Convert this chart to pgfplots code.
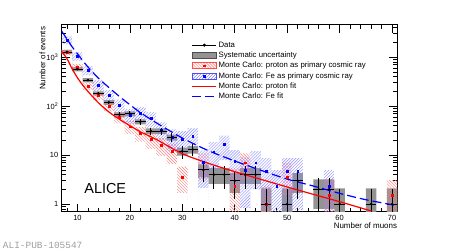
\documentclass[border=0pt]{standalone}
\usepackage{pgfplots}
\pgfplotsset{compat=1.18}
\usepackage{pgfplotstable}
\usepgfplotslibrary{fillbetween}
\usetikzlibrary{patterns}
\usepackage{fontspec}
\setmainfont{Liberation Sans}
\setmonofont{Liberation Mono}

% data: muon number, events, x half width, stat errors
\pgfplotstableread{
m n ex ep em
8 1280 1 35.8 35.8
10 570 1 23.9 23.9
12 340 1 18.4 18.4
14 182 1 13.5 13.5
16 119 1 10.9 10.9
18 67 1 8.2 8.2
20 70 1 8.4 8.4
22 48 1 6.9 6.9
24 31 1 5.6 5.6
26 31 1 5.6 5.6
28 23 1 4.8 4.8
30 12 1 3.5 3.5
32 13 1 3.6 3.6
34 5 1 2.2 2.2
36 4 1 2.0 2.0
38 4 1 2.0 2.0
40 3 1 1.7 1.7
42 4 1 2.0 2.0
44 4 1 2.0 2.0
46 1 1 1.0 0.999
50 1 1 1.0 0.999
52 3 1 1.7 1.7
56 2 1 1.41 1.41
58 2 1 1.41 1.41
60 1 1 1.0 0.999
66 1 1 1.0 0.999
70 1 1 1.0 0.999
}\datatab

% systematic boxes (left bin edge, low, high)
\pgfplotstableread{
x lo hi
7 1151 1409
9 512 628
11 305 375
13 163 201
15 106 132
17 59.3 74.7
19 62 78
21 42.2 53.8
23 26.9 35.1
25 26.9 35.1
27 19.7 26.3
29 9.8 14.2
31 10.7 15.3
33 3.5 6.5
35 2.6 5.4
37 2.6 5.4
39 1.7 4.3
41 2.6 5.4
43 2.6 5.4
45 0.01 2.1
47 0.5 0.5
49 0.01 2.1
51 1.7 4.3
53 0.5 0.5
55 0.8 3.2
57 0.8 3.2
59 0.01 2.1
61 0.5 0.5
63 0.5 0.5
65 0.01 2.1
67 0.5 0.5
69 0.01 2.1
71 0.01 2.1
}\systab

% MC Fe boxes
\pgfplotstableread{
x lo hi
7 1841 2659
9 844 1256
11 424 656
13 205 335
15 122.6 211.4
17 73.9 136.1
19 43.9 88.1
21 47.7 94.3
23 36.4 75.6
25 19.4 46.6
27 12.4 33.6
29 11 31
31 13 35
33 2.15 12.45
35 4.8 18.6
37 7.9 25.1
39 2.3 12.7
41 0.84 8.96
43 2 12
45 0.75 8.65
47 0.01 4.92
49 0.75 8.65
51 0.75 8.65
53 0.5 0.5
55 0.5 0.5
57 0.01 4.92
59 0.01 4.92
}\febox

% MC proton boxes
\pgfplotstableread{
x lo hi
7 1083 1417
9 537 723
11 212 302
13 135 199
15 78 122
17 44.7 75.3
19 26.8 49.2
21 18.85 37.15
23 13.4 28.6
25 9.6 22.4
27 6.64 17.36
29 1.7 5.8
31 0.5 0.5
33 3.13 10.87
35 0.5 0.5
37 0.5 0.5
39 0.25 5.5
41 3.13 10.87
43 0.5 0.5
45 0.01 2.3
47 0.5 0.5
49 1.5 7
51 0.5 0.5
53 0.5 0.5
55 0.5 0.5
57 0.01 3.1
59 0.5 0.5
61 0.5 0.5
63 0.5 0.5
65 0.5 0.5
67 0.5 0.5
69 0.01 3.1
71 0.01 3.1
}\prbox

\pgfplotstableread{
m n
8 2250
10 1050
12 540
14 270
16 167
18 105
20 66
22 71
24 56
26 33
28 23
30 21
32 24
34 7.3
36 11.7
38 16.5
40 7.5
42 4.9
44 7
46 4.7
48 2.3
50 4.7
52 4.7
58 2.3
}\fepts

\pgfplotstableread{
m n
8 1250
10 630
12 257
14 167
16 100
18 60
20 38
22 28
24 21
26 16
28 12
30 3.6
34 7
40 2.3
42 7
46 1
50 3.5
58 1.5
70 1.5
}\prpts

\begin{document}
\begin{tikzpicture}
\path (0,0) rectangle (449bp,251bp);
\begin{axis}[
  at={(61.7bp,39.3bp)}, anchor=south west,
  width=335.6bp, height=187bp, scale only axis,
  xmin=7, xmax=71, ymode=log, ymin=0.7, ymax=4600,
  axis line style={line width=0.9bp},
  tick align=inside, tick pos=both,
  xtick={10,20,...,70}, minor xtick={8,10,...,70},
  ytick={1,10,100,1000},
  yticklabels={1,10,10\textsuperscript{2},10\textsuperscript{3}},
  minor ytick={0.8,0.9,2,3,4,5,6,7,8,9,20,30,40,50,60,70,80,90,200,300,400,500,600,700,800,900,2000,3000,4000},
  major tick length=8bp, minor tick length=4bp,
  every tick/.style={line width=0.7bp, black},
  /pgf/number format/assume math mode=true,
  tick label style={font=\fontsize{7.5}{8}\selectfont},
  xlabel={Number of muons},
  xlabel style={at={(axis description cs:1,0)}, anchor=north east, yshift=-11bp, inner sep=0pt, font=\fontsize{8}{9}\selectfont},
  ylabel={Number of events},
  ylabel style={at={(axis description cs:-0.0667,0.989)}, anchor=north east, inner sep=0pt, font=\fontsize{8}{9}\selectfont},
  legend style={at={(axis description cs:0.387,0.919)}, anchor=north west, draw=none, fill=none,
    font=\fontsize{7.8}{8}\selectfont, inner sep=0pt, row sep=0pt,
    nodes={inner sep=1.65bp, text height=5.5bp, text depth=1.5bp, anchor=west}},
  legend cell align=left,
]
% systematic boxes
\addplot[name path=syshi, draw=none, const plot mark left, forget plot] table[x=x, y=hi]{\systab};
\addplot[name path=syslo, draw=none, const plot mark left, forget plot] table[x=x, y=lo]{\systab};
\addplot[fill=gray!85, draw=none, forget plot] fill between[of=syshi and syslo];
% MC proton boxes
\addplot[name path=prhi, draw=none, const plot mark left, forget plot] table[x=x, y=hi]{\prbox};
\addplot[name path=prlo, draw=none, const plot mark left, forget plot] table[x=x, y=lo]{\prbox};
\addplot[pattern=north west lines, pattern color=red!50, draw=none, forget plot] fill between[of=prhi and prlo];
% MC Fe boxes
\addplot[name path=fehi, draw=none, const plot mark left, forget plot] table[x=x, y=hi]{\febox};
\addplot[name path=felo, draw=none, const plot mark left, forget plot] table[x=x, y=lo]{\febox};
\addplot[pattern=north east lines, pattern color=blue!45, draw=none, forget plot] fill between[of=fehi and felo];
% MC points
\addplot[only marks, mark=square*, mark size=0.9bp, red, forget plot] table[x=m, y=n]{\prpts};
\addplot[only marks, mark=square*, mark size=0.9bp, blue, forget plot] table[x=m, y=n]{\fepts};
% data
\addplot[black, only marks, mark=*, mark size=1.1bp, forget plot,
  error bars/.cd, x dir=both, x explicit, y dir=both, y explicit, error mark=none,
  error bar style={line width=0.8bp, black}]
  table[x=m, y=n, x error=ex, y error plus=ep, y error minus=em]{\datatab};
% fits
\addplot[red, line width=1.2bp, smooth, forget plot] coordinates {
(7,1300) (8,933) (9,575) (10,380) (11,269) (12,200) (14,117) (16,76) (18,54) (20,40) (22,30) (25,21) (30,10.7) (35,6.8) (40,4.6) (45,3.2) (50,2.24) (55,1.58) (60,1.12) (66.1,0.72)};
\addplot[blue, line width=1.2bp, dash pattern=on 9bp off 4bp, smooth, forget plot] coordinates {
(7,3390) (8,2340) (9,1620) (10,1175) (11,851) (12,631) (14,372) (16,240) (18,158) (20,107) (22,74) (25,46) (30,22.4) (35,12.3) (40,7.6) (45,4.9) (50,3.24) (55,2.34) (60,1.66) (65,1.23) (71,0.93)};

\addlegendimage{legend image code/.code={
  \draw[black, line width=0.8bp] (0bp,0bp) -- (24bp,0bp);
  \fill[black] (12bp,0bp) circle (1.4bp);}}
\addlegendentry{Data}
\addlegendimage{legend image code/.code={
  \draw[fill=gray!85, draw=black!70, line width=0.6bp] (0bp,-3bp) rectangle (24bp,3bp);}}
\addlegendentry{Systematic uncertainty}
\addlegendimage{legend image code/.code={
  \draw[pattern=north west lines, pattern color=red!60, draw=red!70, line width=0.6bp] (0bp,-3bp) rectangle (24bp,3bp);
  \fill[red] (11.1bp,-0.9bp) rectangle (12.9bp,0.9bp);}}
\addlegendentry{Monte Carlo: proton as primary cosmic ray}
\addlegendimage{legend image code/.code={
  \draw[pattern=north east lines, pattern color=blue!60, draw=blue!70, line width=0.6bp] (0bp,-3bp) rectangle (24bp,3bp);
  \fill[blue] (11.1bp,-0.9bp) rectangle (12.9bp,0.9bp);}}
\addlegendentry{Monte Carlo: Fe as primary cosmic ray}
\addlegendimage{legend image code/.code={
  \draw[red, line width=1.2bp] (0bp,0bp) -- (24bp,0bp);}}
\addlegendentry{Monte Carlo: proton fit}
\addlegendimage{legend image code/.code={
  \draw[blue, line width=1.2bp, dash pattern=on 9bp off 4bp] (0bp,0bp) -- (24bp,0bp);}}
\addlegendentry{Monte Carlo: Fe fit}

\node[anchor=base west, inner sep=0pt, font=\fontsize{14.5}{16}\selectfont] at (axis description cs:0.067,0.095) {ALICE};
\end{axis}
\node[anchor=base west, inner sep=0pt, font=\ttfamily\fontsize{9.5}{10}\selectfont, text=black!38] at (2.7bp,2.7bp) {ALI-PUB-105547};
\pgfresetboundingbox
\path[use as bounding box] (0,0) rectangle (449bp,251bp);
\end{tikzpicture}
\end{document}
